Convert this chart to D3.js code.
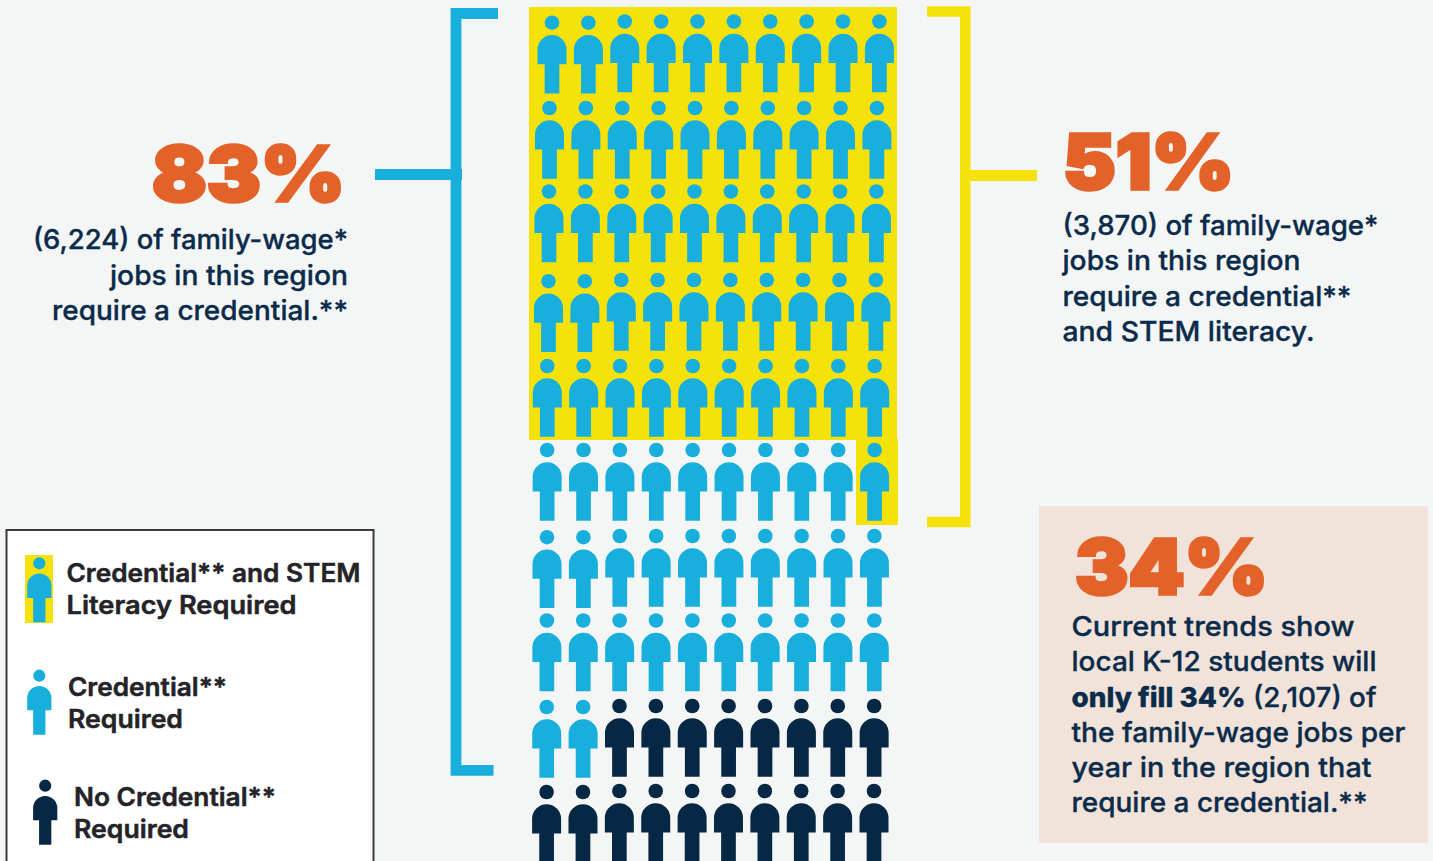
<!DOCTYPE html>
<html><head><meta charset="utf-8">
<script src="https://cdn.jsdelivr.net/npm/d3@7"></script>
<style>
html,body{margin:0;padding:0;background:#f4f6f6;overflow:hidden}
svg{display:block}
</style></head><body><svg id="c" width="1433" height="861"></svg>
<script>
// Data: figures in the pictogram, as drawn in the reference
const categories = ["Credential** and STEM Literacy Required","Credential** Required","No Credential** Required"];
const categoryKeys = ["stem","cred","none"];
const categoryCounts = [51, 31, 18];
const colors = {stem:"#18afdc",cred:"#18afdc",none:"#072844"};
const rowCount = 10, columnCount = 10;

const people = [];
categoryKeys.forEach((k,i)=>{ for(let n=0;n<categoryCounts[i];n++) people.push({key:k,index:people.length}); });

const svg = d3.select("#c");
const NAVY="#0b2b4a", BLUE="#18afdc", YEL="#f5e20a", ORG="#e36229", INK="#232328";

// layout scales
const rowScale = d3.scaleLinear().domain(d3.range(rowCount)).range([21.5,108,191.5,280,366,450,536,620.5,706,791]);
const colScale = d3.scaleLinear().domain([0,columnCount-1]).range([0,327.4]);
const driftScale = d3.scaleLinear().domain([0,1,3,4,9]).range([552,549.5,548.5,547.3,546.6]);
const leftNudge = d3.scaleOrdinal().domain([0,3,6,8,9]).range([1.2,1.2,1.2,1,1]).unknown(0);

function person(g,s,fill){
  const r=14.5*s, top=12.3*s, sh=41.5*s, sw=7.35*s, bot=70.7*s;
  g.append("circle").attr("r",7.3*s).attr("fill",fill);
  const p=d3.path();
  p.moveTo(-r,sh); p.lineTo(-r,top+r); p.arc(0,top+r,r,Math.PI,0);
  p.lineTo(r,sh); p.lineTo(sw,sh); p.lineTo(sw,bot); p.lineTo(-sw,bot); p.lineTo(-sw,sh); p.closePath();
  g.append("path").attr("d",p.toString()).attr("fill",fill);
}

// yellow backdrop
const fullRows = Math.floor(categoryCounts[0]/columnCount);
const yellowBottom = rowScale(fullRows)-10;
svg.append("rect").attr("x",529).attr("y",7).attr("width",368).attr("height",yellowBottom-7).attr("fill",YEL);
svg.append("rect").attr("x",856).attr("y",yellowBottom-1).attr("width",42).attr("height",86).attr("fill",YEL);

// pictogram
const order = [];
for(let r=0;r<rowCount;r++){
  const cols=d3.range(columnCount);
  if(r===fullRows) cols.reverse();
  cols.forEach(c=>order.push({r,c}));
}
people.forEach((d,i)=>{
  const {r,c}=order[i];
  const g=svg.append("g").attr("class","person")
    .attr("transform",`translate(${driftScale(r)+colScale(c)},${rowScale(r)+(c<2?leftNudge(r):0)})`);
  person(g,1,colors[d.key]);
});

// brackets
const bracket=(pts,col,w)=>svg.append("path").attr("d",d3.line()(pts)).attr("fill","none").attr("stroke",col).attr("stroke-width",w);
bracket([[498,13.5],[456,13.5],[456,770.3],[493.5,770.3]],BLUE,10.8);
bracket([[375,174.5],[462,174.5]],BLUE,11);
bracket([[927,11.5],[965.3,11.5],[965.3,522],[927,522]],YEL,10.5);
bracket([[965,175.5],[1037,175.5]],YEL,11);

// peach box
svg.append("rect").attr("x",1039).attr("y",506).attr("width",389).attr("height",337).attr("fill","#f2e3da");

// legend box
svg.append("rect").attr("x",6.5).attr("y",530).attr("width",367).attr("height",360).attr("fill","#fff").attr("stroke","#3a3a3a").attr("stroke-width",2);
svg.append("rect").attr("x",25).attr("y",555).attr("width",28).attr("height",68).attr("fill",YEL);
const legendY=[563.3,675.7,785.7], legendX=[39.3,39.3,45.2];
categoryKeys.forEach((k,i)=>{
  const g=svg.append("g").attr("transform",`translate(${legendX[i]},${legendY[i]})`);
  person(g,0.835,colors[k]);
});

function txt(x,y,s,opt={}){
  const t=svg.append("text").attr("x",x).attr("y",y)
    .attr("font-family",opt.ff||"Inter").attr("font-size",opt.fs||27.5)
    .attr("font-weight",opt.fw||500).attr("fill",opt.fill||NAVY)
    .attr("text-anchor",opt.anchor||"start")
    .attr("stroke",opt.fill||NAVY).attr("stroke-width",opt.sw===undefined?0.35:opt.sw);
  (Array.isArray(s)?s:[[s,opt.fw||500]]).forEach(([a,w])=>t.append("tspan").attr("font-weight",w).text(a));
  if(opt.len) t.attr("textLength",opt.len).attr("lengthAdjust","spacingAndGlyphs");
  return t;
}
function big(x,y,s,len){
  txt(x,y,s,{fw:900,fs:76,fill:ORG,len,sw:3.4});
}
big(152,201,"83%",193);
big(1063,189,"51%",171);
big(1075,594,"34%",193);

const ll=(lines,x,y0,dy,anchor)=>lines.forEach((l,i)=>txt(x,y0+i*dy,l[0],{anchor,len:l[1]}));
ll([["(6,224) of family-wage*",315],["jobs in this region",238],["require a credential.**",296]],348,249,35.6,"end");
ll([["(3,870) of family-wage*",316],["jobs in this region",238],["require a credential**",289],["and STEM literacy.",252]],1062.5,235,35.3,"start");
ll([["Current trends show",283],["local K-12 students will",305]],1071.5,636,35.3,"start");
txt(1071.5,707,[["only fill 34%",800],[" (2,107) of",500]],{len:305});
ll([["the family-wage jobs per",334],["year in the region that",300],["require a credential.**",296]],1071.5,742,35.2,"start");

const lt=(x,y,s,len)=>txt(x,y,s,{fs:25.5,fw:600,fill:INK,len,sw:0.5});
lt(66.5,582,"Credential** and STEM",294); lt(66.5,614,"Literacy Required",230);
lt(68,696,"Credential**",159); lt(68,728,"Required",115);
lt(74,806,"No Credential**",202); lt(74,838,"Required",115);
</script></body></html>
